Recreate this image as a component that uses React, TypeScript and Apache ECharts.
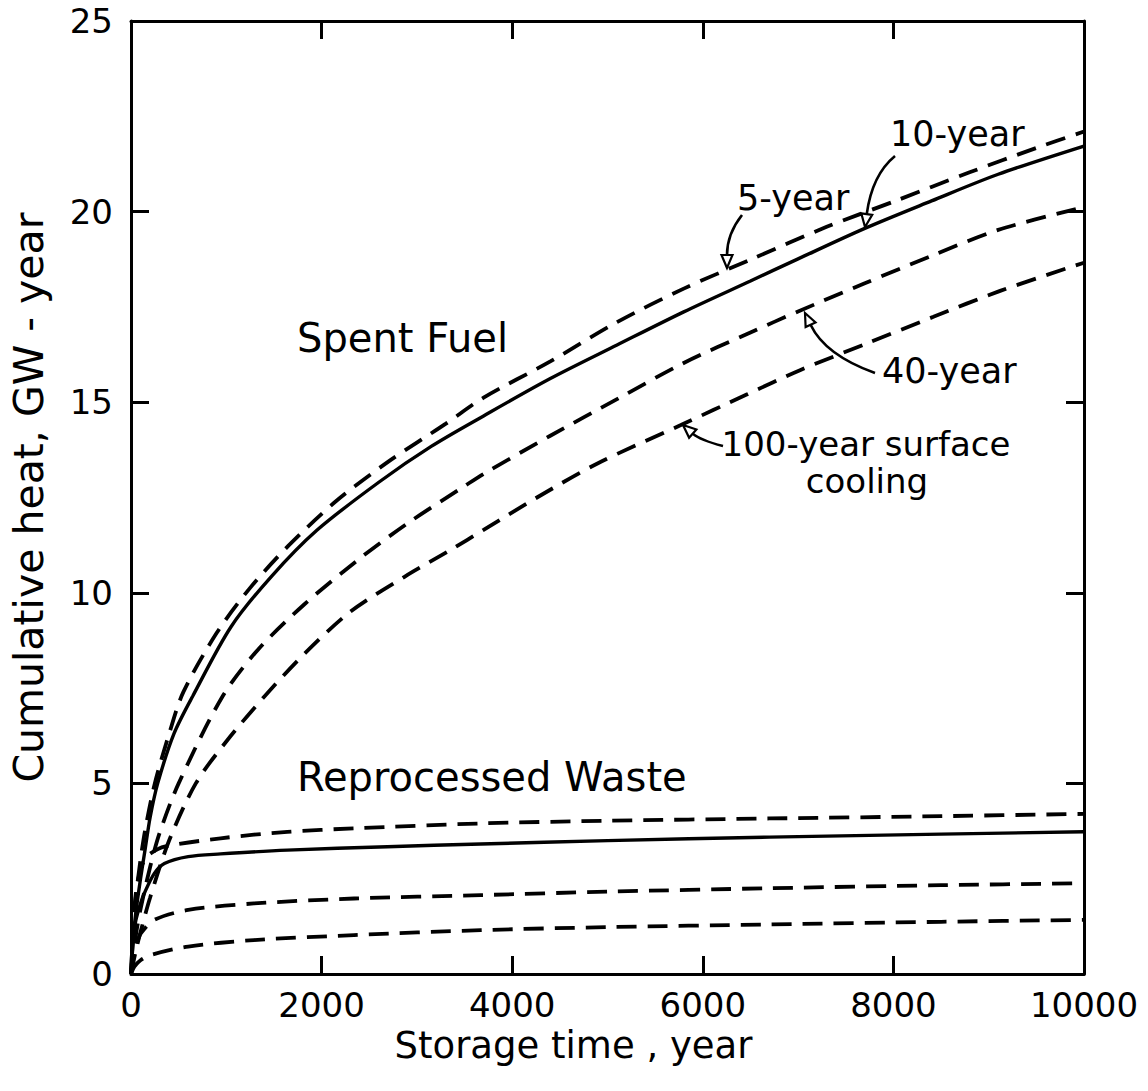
import React, { useEffect, useRef } from "react";
import * as echarts from "echarts";

// ---------- Data (storage time in years, cumulative heat in GW-year) ----------
const sf5Years = [0, 25, 50, 100, 150, 250, 400, 550, 900, 1250, 1650, 2150, 2700, 3300, 3700, 4400, 5100, 5800, 6500, 7300, 8000, 8800, 9500, 10000];
const sf5Heat = [0, 1.2, 2.0, 3.0, 3.8, 5.0, 6.3, 7.4, 8.95, 10.13, 11.23, 12.4, 13.44, 14.43, 15.12, 16.07, 17.1, 17.98, 18.74, 19.6, 20.26, 21.03, 21.67, 22.1];

const sf10Years = [0, 25, 50, 100, 150, 200, 280, 450, 650, 1050, 1470, 1950, 2600, 3150, 3700, 4400, 5100, 5800, 6500, 7000, 7700, 8400, 9100, 10000];
const sf10Heat = [0, 1.0, 1.6, 2.5, 3.3, 4.1, 5.0, 6.3, 7.3, 9.11, 10.42, 11.64, 12.9, 13.84, 14.64, 15.62, 16.5, 17.37, 18.18, 18.76, 19.56, 20.28, 20.98, 21.72];

const sf40Years = [0, 50, 100, 200, 300, 500, 960, 1330, 1820, 2380, 2900, 3500, 3700, 4400, 5100, 5800, 6500, 7000, 7700, 8400, 9100, 10000];
const sf40Heat = [0, 1.0, 1.7, 2.8, 3.7, 5.0, 7.28, 8.5, 9.7, 10.86, 11.82, 12.8, 13.12, 14.12, 15.08, 16.03, 16.83, 17.38, 18.12, 18.84, 19.52, 20.12];

const sf100Years = [0, 50, 100, 200, 400, 680, 1000, 1400, 1820, 2300, 2870, 3350, 3700, 4260, 4900, 5770, 6460, 7020, 7720, 8420, 9120, 10000];
const sf100Heat = [0, 0.6, 1.1, 2.0, 3.5, 5.0, 6.1, 7.28, 8.4, 9.5, 10.42, 11.12, 11.65, 12.5, 13.4, 14.4, 15.2, 15.84, 16.54, 17.24, 17.92, 18.66];

const rw5Years = [0, 25, 50, 100, 150, 210, 350, 940, 1640, 2340, 3670, 5000, 6700, 8500, 10000];
const rw5Heat = [0, 1.3, 2.1, 2.75, 3.02, 3.17, 3.34, 3.56, 3.73, 3.82, 3.95, 4.02, 4.08, 4.14, 4.2];

const rw10Years = [0, 25, 50, 100, 140, 245, 350, 600, 940, 1640, 2690, 3670, 5000, 6700, 8500, 10000];
const rw10Heat = [0, 0.9, 1.4, 1.85, 2.12, 2.64, 2.9, 3.08, 3.15, 3.25, 3.34, 3.41, 3.5, 3.59, 3.67, 3.73];

const rw40Years = [0, 30, 60, 105, 245, 600, 1290, 2340, 3670, 5000, 6700, 8500, 10000];
const rw40Heat = [0, 0.5, 0.8, 1.07, 1.42, 1.68, 1.85, 1.98, 2.07, 2.16, 2.25, 2.33, 2.38];

const rw100Years = [0, 35, 100, 210, 600, 1290, 2340, 3670, 5000, 6700, 8500, 10000];
const rw100Heat = [0, 0.19, 0.36, 0.5, 0.72, 0.89, 1.02, 1.15, 1.23, 1.3, 1.37, 1.42];

const xMin = 0;
const xMax = 10000;
const xInterval = 2000;
const yMin = 0;
const yMax = 25;
const yInterval = 5;

const xAxisTitle = "Storage time , year";
const yAxisTitle = "Cumulative heat, GW - year";

const zip = (xs: number[], ys: number[]) => xs.map((x, i) => [x, ys[i]]);

export default function App() {
  const ref = useRef<HTMLDivElement>(null);

  useEffect(() => {
    if (!ref.current) return;
    const chart = echarts.init(ref.current, null, { renderer: "svg" });
    const font = "DejaVu Sans";
    const black = "#000";

    const mkLine = (name: string, xs: number[], ys: number[], dashed: boolean) => ({
      name,
      type: "line",
      data: zip(xs, ys),
      showSymbol: false,
      symbol: "none",
      smooth: 0.3,
      silent: true,
      z: 3,
      lineStyle: {
        color: black,
        width: dashed ? 3.8 : 3.4,
        type: dashed ? [20, 11] : "solid",
        cap: "butt",
      },
    });

    const axisLine = { show: true, onZero: false, lineStyle: { color: black, width: 3 } };
    const axisTick = { show: true, inside: true, length: 18, lineStyle: { color: black, width: 3 } };

    // arrow helper: quadratic curve from start via control to tip, with open triangular head
    const arrow = (sx: number, sy: number, cx: number, cy: number, tx: number, ty: number) => {
      const dx = tx - cx;
      const dy = ty - cy;
      const len = Math.hypot(dx, dy) || 1;
      const ux = dx / len;
      const uy = dy / len;
      const L = 13;
      const W = 5.5;
      const bx = tx - ux * L;
      const by = ty - uy * L;
      const nx = -uy;
      const ny = ux;
      return [
        {
          type: "bezierCurve",
          shape: { x1: sx, y1: sy, x2: bx, y2: by, cpx1: cx, cpy1: cy },
          style: { stroke: black, lineWidth: 2.6, fill: null },
          z: 10,
        },
        {
          type: "polygon",
          shape: {
            points: [
              [tx, ty],
              [bx + nx * W, by + ny * W],
              [bx - nx * W, by - ny * W],
            ],
          },
          style: { stroke: black, lineWidth: 2.2, fill: "#fff" },
          z: 11,
        },
      ];
    };

    const label = (text: string, x: number, y: number, size: number, align = "left") => ({
      type: "text",
      x,
      y,
      z: 12,
      style: {
        text,
        fill: black,
        font: `${size}px "${font}"`,
        fontFamily: font,
        fontSize: size,
        align,
        verticalAlign: "middle",
      },
    });

    const plain = (v: number) => String(v);

    chart.setOption({
      animation: false,
      backgroundColor: "#fff",
      grid: { left: 130, right: 64, top: 21, bottom: 117, containLabel: false },
      xAxis: [
        {
          type: "value",
          position: "bottom",
          min: xMin,
          max: xMax,
          interval: xInterval,
          axisLine,
          axisTick,
          splitLine: { show: false },
          axisLabel: { color: black, fontFamily: font, fontSize: 34, margin: 14, formatter: plain },
          name: xAxisTitle,
          nameLocation: "middle",
          nameGap: 50,
          nameTextStyle: { color: black, fontFamily: font, fontSize: 37, padding: [0, 68, 0, 0] },
        },
        {
          type: "value",
          position: "top",
          min: xMin,
          max: xMax,
          interval: xInterval,
          axisLine,
          axisTick,
          splitLine: { show: false },
          axisLabel: { show: false },
        },
      ],
      yAxis: [
        {
          type: "value",
          position: "left",
          min: yMin,
          max: yMax,
          interval: yInterval,
          axisLine,
          axisTick,
          splitLine: { show: false },
          axisLabel: { color: black, fontFamily: font, fontSize: 34, margin: 18, formatter: plain },
          name: yAxisTitle,
          nameLocation: "middle",
          nameGap: 82,
          nameRotate: 90,
          nameTextStyle: { color: black, fontFamily: font, fontSize: 41 },
        },
        {
          type: "value",
          position: "right",
          min: yMin,
          max: yMax,
          interval: yInterval,
          axisLine,
          axisTick,
          splitLine: { show: false },
          axisLabel: { show: false },
        },
      ],
      series: [
        mkLine("Spent fuel, 5-year", sf5Years, sf5Heat, true),
        mkLine("Spent fuel, 10-year", sf10Years, sf10Heat, false),
        mkLine("Spent fuel, 40-year", sf40Years, sf40Heat, true),
        mkLine("Spent fuel, 100-year surface cooling", sf100Years, sf100Heat, true),
        mkLine("Reprocessed waste, 5-year", rw5Years, rw5Heat, true),
        mkLine("Reprocessed waste, 10-year", rw10Years, rw10Heat, false),
        mkLine("Reprocessed waste, 40-year", rw40Years, rw40Heat, true),
        mkLine("Reprocessed waste, 100-year surface cooling", rw100Years, rw100Heat, true),
      ],
      graphic: [
        label("Spent Fuel", 297, 338, 40),
        label("Reprocessed Waste", 297, 777, 40),
        label("5-year", 737, 198, 35),
        label("10-year", 890, 134, 35),
        label("40-year", 882, 371, 35),
        label("100-year surface", 866, 444, 34, "center"),
        label("cooling", 867, 481, 34, "center"),
        ...arrow(742, 215, 727, 234, 727, 268),
        ...arrow(895, 156, 872, 175, 865, 227),
        ...arrow(875, 373, 825, 355, 805, 313),
        ...arrow(723, 446, 700, 440, 683, 425),
      ],
    });

    return () => chart.dispose();
  }, []);

  return (
    <div
      ref={ref}
      style={{ position: "fixed", left: 0, top: 0, width: 1148, height: 1091, background: "#fff" }}
    />
  );
}
